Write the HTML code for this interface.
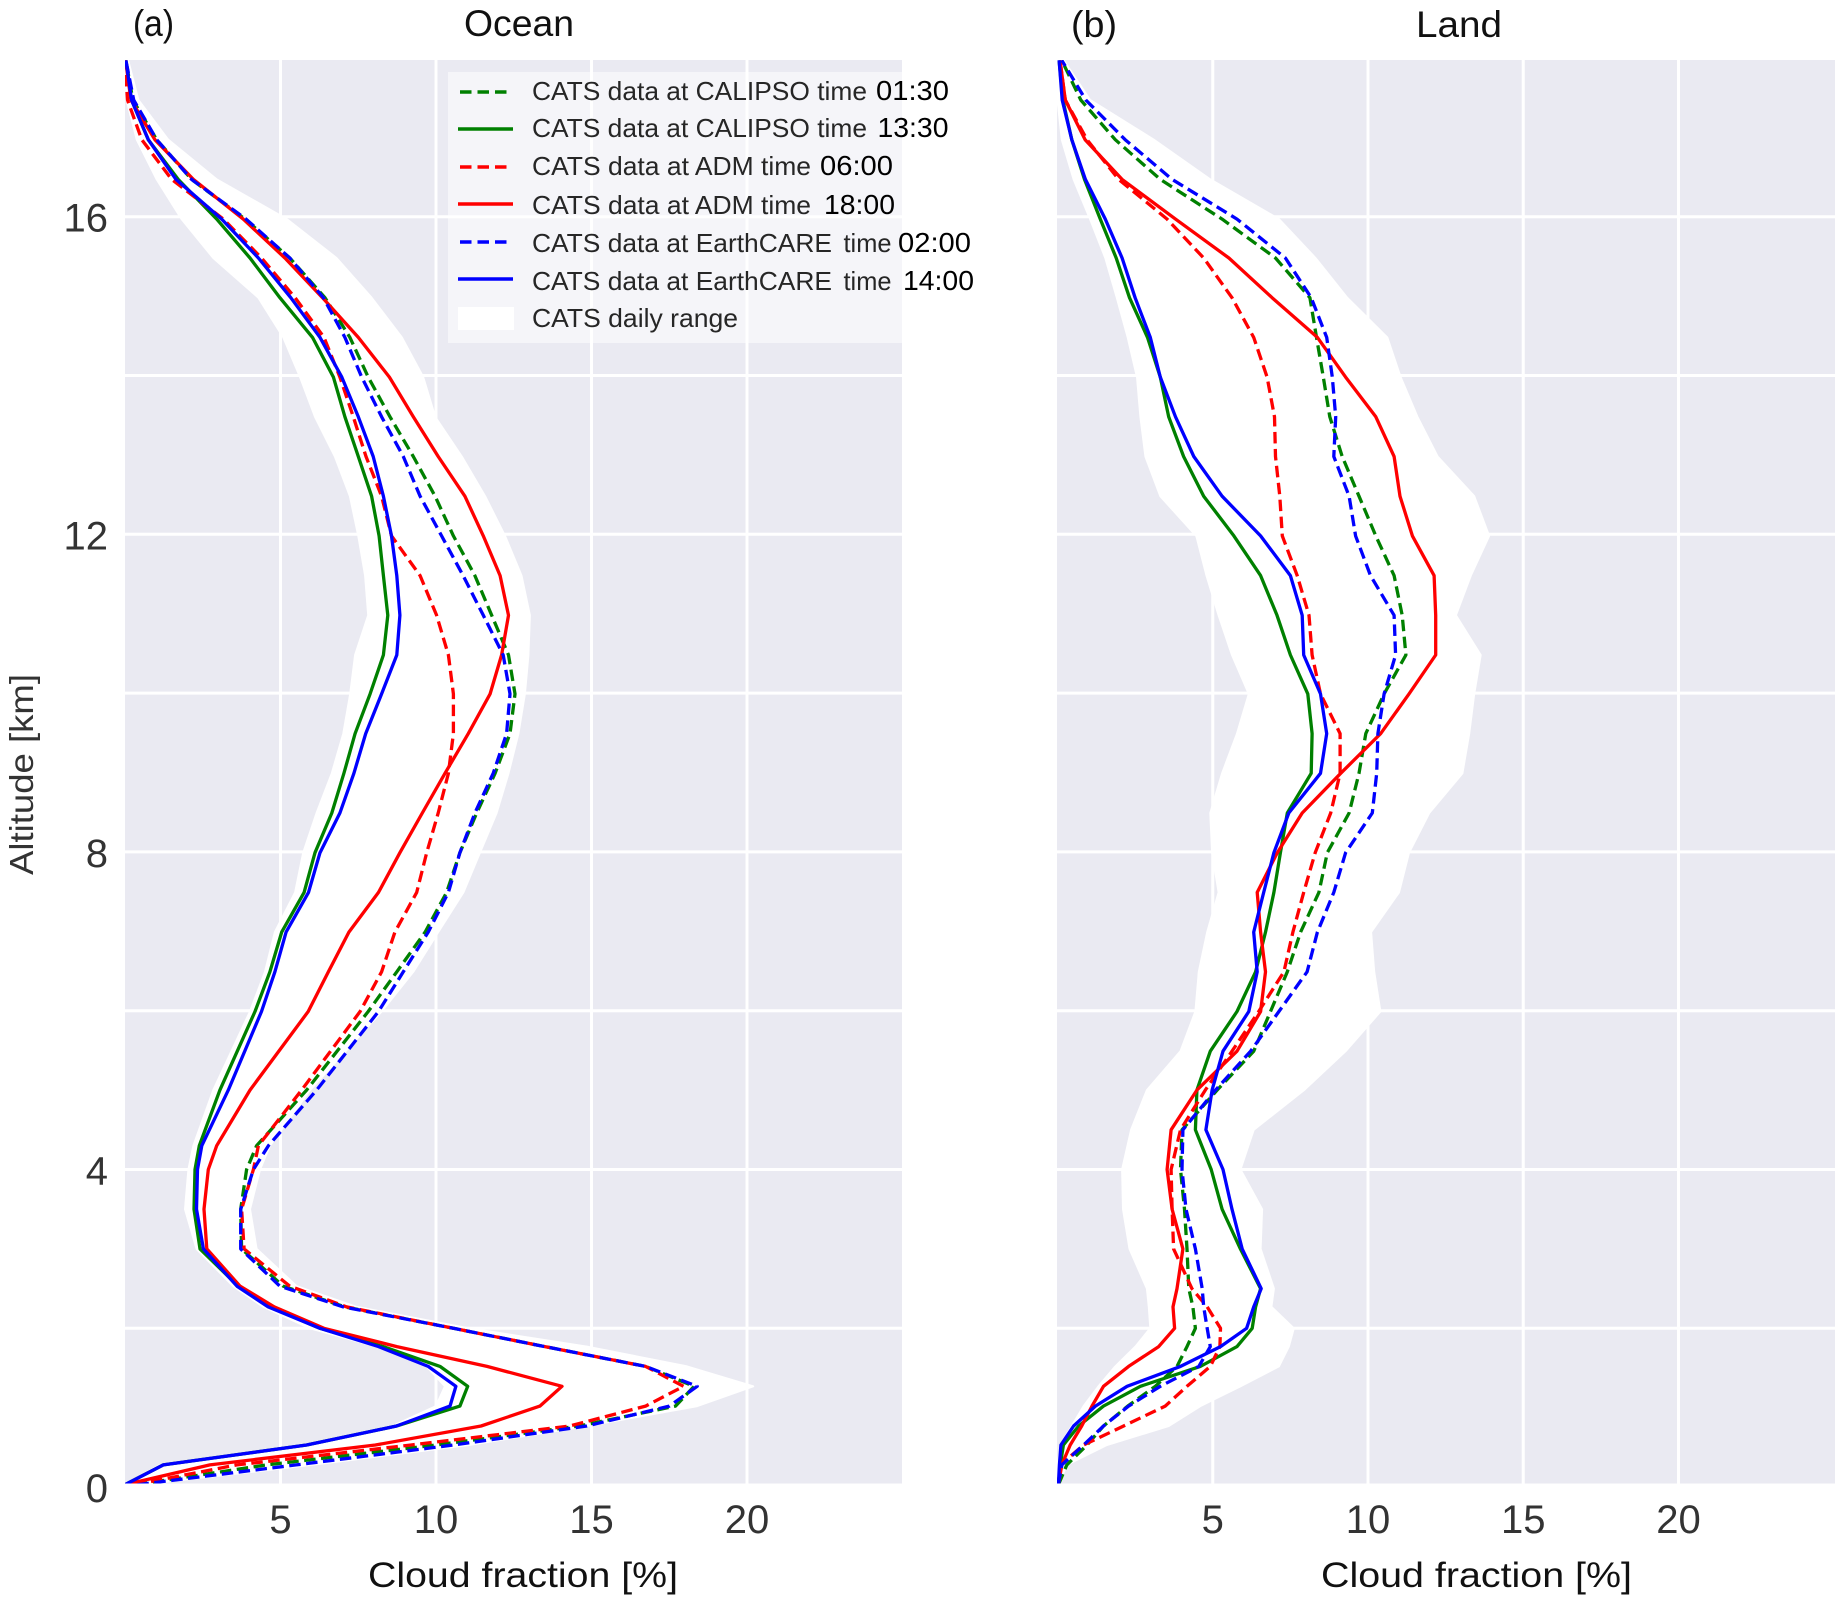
<!DOCTYPE html>
<html lang="en">
<head>
<meta charset="utf-8">
<title>CATS cloud fraction profiles</title>
<style>
html,body{margin:0;padding:0;background:#fff}
svg{display:block}
text{font-family:"Liberation Sans",Arial,sans-serif}
.tick{font-size:40px;fill:#333}
.leg{font-size:26px;fill:#262626}
.legt{font-size:28px;fill:#000}
.title{font-size:37px;fill:#111}
.xl{font-size:35px;fill:#111}
</style>
</head>
<body>
<svg id="chart" xmlns="http://www.w3.org/2000/svg" width="1841" height="1600" viewBox="0 0 1841 1600">
  <defs>
    <clipPath id="clipA"><rect x="125" y="60" width="777" height="1423.5"/></clipPath>
    <clipPath id="clipB"><rect x="1057" y="60" width="778" height="1423.5"/></clipPath>
  </defs>
  <g id="panelA"></g>
  <g id="panelB"></g>

  <text class="title" x="133" y="36" textLength="41" lengthAdjust="spacingAndGlyphs">(a)</text>
  <text class="title" x="464" y="36" textLength="110" lengthAdjust="spacingAndGlyphs">Ocean</text>
  <text class="title" x="1071" y="37" textLength="46" lengthAdjust="spacingAndGlyphs">(b)</text>
  <text class="title" x="1416" y="37" textLength="86" lengthAdjust="spacingAndGlyphs">Land</text>
  <text class="xl" x="368" y="1587" textLength="310" lengthAdjust="spacingAndGlyphs">Cloud fraction [%]</text>
  <text class="xl" x="1321" y="1587" textLength="311" lengthAdjust="spacingAndGlyphs">Cloud fraction [%]</text>
  <text x="0" y="0" transform="translate(33,875) rotate(-90)" textLength="201" lengthAdjust="spacingAndGlyphs" style="font-size:33px;fill:#333">Altitude [km]</text>

  <g>
    <path d="M448 72H902V343H448Z" fill="#ffffff" fill-opacity="0.5"/>
    <g>
      <line x1="460" x2="507" y1="92" y2="92" stroke="#008000" stroke-width="3.4" stroke-dasharray="11.5 6"/>
      <text class="leg" x="532" y="100" textLength="335" lengthAdjust="spacingAndGlyphs">CATS data at CALIPSO time</text>
      <text class="legt" x="876" y="100" textLength="73" lengthAdjust="spacingAndGlyphs">01:30</text>
    </g>
    <g>
      <line x1="458" x2="513" y1="129" y2="129" stroke="#008000" stroke-width="3.4"/>
      <text class="leg" x="532" y="137" textLength="335" lengthAdjust="spacingAndGlyphs">CATS data at CALIPSO time</text>
      <text class="legt" x="877.5" y="137" textLength="71" lengthAdjust="spacingAndGlyphs">13:30</text>
    </g>
    <g>
      <line x1="460" x2="507" y1="167" y2="167" stroke="#ff0000" stroke-width="3.4" stroke-dasharray="11.5 6"/>
      <text class="leg" x="532" y="175" textLength="279" lengthAdjust="spacingAndGlyphs">CATS data at ADM time</text>
      <text class="legt" x="820" y="175" textLength="73" lengthAdjust="spacingAndGlyphs">06:00</text>
    </g>
    <g>
      <line x1="458" x2="513" y1="204" y2="204" stroke="#ff0000" stroke-width="3.4"/>
      <text class="leg" x="532" y="214" textLength="279" lengthAdjust="spacingAndGlyphs">CATS data at ADM time</text>
      <text class="legt" x="824" y="214" textLength="71" lengthAdjust="spacingAndGlyphs">18:00</text>
    </g>
    <g>
      <line x1="460" x2="507" y1="242" y2="242" stroke="#0000ff" stroke-width="3.4" stroke-dasharray="11.5 6"/>
      <text class="leg" x="532" y="252" textLength="300" lengthAdjust="spacingAndGlyphs">CATS data at EarthCARE</text>
      <text class="leg" x="843.5" y="252" textLength="48" lengthAdjust="spacingAndGlyphs">time</text>
      <text class="legt" x="898" y="252" textLength="73" lengthAdjust="spacingAndGlyphs">02:00</text>
    </g>
    <g>
      <line x1="458" x2="513" y1="279" y2="279" stroke="#0000ff" stroke-width="3.4"/>
      <text class="leg" x="532" y="290" textLength="300" lengthAdjust="spacingAndGlyphs">CATS data at EarthCARE</text>
      <text class="leg" x="843.5" y="290" textLength="48" lengthAdjust="spacingAndGlyphs">time</text>
      <text class="legt" x="903" y="290" textLength="71" lengthAdjust="spacingAndGlyphs">14:00</text>
    </g>
    <g>
      <rect x="458" y="307" width="56" height="23" fill="#ffffff"/>
      <text class="leg" x="532" y="327" textLength="206" lengthAdjust="spacingAndGlyphs">CATS daily range</text>
    </g>
  </g>
</svg>

<script>
const xTickValues = [5, 10, 15, 20];
const yGridValues = [2, 4, 6, 8, 10, 12, 14, 16];
const yTickValues = [0, 4, 8, 12, 16];

const oceanAltitude = [0.03,0.28,0.53,0.77,1.02,1.27,1.52,1.77,2,2.27,2.53,3,3.5,4,4.3,5,5.99,6.49,6.99,7.49,7.99,8.49,8.99,9.49,9.99,10.48,10.98,11.48,11.98,12.48,12.98,13.48,13.98,14.48,14.98,15.48,15.97,16.47,16.97,17.47,17.97];
const oceanRangeLow = [0,1.13,5.73,8.6,10,10.29,9.7,8.1,5.95,4.45,3.48,2.3,1.93,2.04,2.2,2.84,4.02,4.5,4.82,5.47,5.73,6.16,6.65,7.02,7.24,7.4,7.82,7.72,7.5,7.23,6.75,6.11,5.63,5.09,4.29,2.84,1.82,1.02,0.38,0.05,0];
const oceanRangeHigh = [0.5,6,11.06,14.85,18.4,20.2,18.07,14.85,11.06,7.45,5.52,4.23,4.02,4.34,4.66,5.95,8.25,9.27,10.07,10.88,11.41,11.95,12.33,12.65,12.86,12.97,13.02,12.75,12.22,11.58,10.83,9.97,9.59,8.9,7.93,6.8,5.2,2.95,1.39,0.43,0.1];
const oceanCalipso0130 = [0.35,4.55,10,14.6,17.7,18.3,16.74,13.5,10.56,7.07,5.09,3.75,3.72,3.91,4.23,5.84,7.82,8.74,9.65,10.34,10.77,11.31,11.9,12.38,12.54,12.33,11.79,11.25,10.56,9.97,9.27,8.52,7.82,7.23,6.43,5.3,3.86,2.14,1.02,0.25,0.03];
const oceanCalipso1330 = [0,1.23,5.84,8.73,10.77,11.02,10.13,8.3,6.27,4.66,3.64,2.41,2.22,2.25,2.39,3.05,4.18,4.66,5.04,5.76,6.11,6.65,7.04,7.4,7.88,8.31,8.45,8.31,8.17,7.93,7.5,7.07,6.7,6.03,4.98,4.02,2.95,1.71,0.75,0.21,0.03];
const oceanAdm0600 = [0.3,3.6,9.2,14.3,16.74,17.96,16.74,13.5,10.56,7.13,5.3,3.83,3.75,4.13,4.29,5.68,7.56,8.25,8.68,9.38,9.7,10.07,10.4,10.56,10.56,10.4,10.02,9.49,8.57,8.25,7.75,7.34,6.91,6.4,5.47,4.39,3.16,1.5,0.54,0.08,0];
const oceanAdm1800 = [0,2.73,8.05,11.45,13.34,14.05,11.64,8.74,6.4,4.8,3.7,2.63,2.54,2.68,2.95,4.02,5.89,6.54,7.2,8.15,8.84,9.56,10.29,11.04,11.74,12.11,12.33,12.06,11.52,10.93,10.07,9.27,8.5,7.5,6.35,5.14,3.8,2.2,0.96,0.19,0.02];
const oceanEarthcare0200 = [0.4,5.5,10.56,14.85,17.5,18.4,16.74,13.5,10.56,7.02,4.98,3.72,3.72,4.13,4.61,6.16,8.15,8.95,9.75,10.4,10.77,11.25,11.84,12.27,12.38,12.16,11.52,10.87,10.18,9.49,8.95,8.25,7.61,7.07,6.38,5.3,3.89,2.14,1.02,0.28,0.03];
const oceanEarthcare1400 = [0,1.23,5.84,8.73,10.45,10.64,9.75,8.15,6.27,4.6,3.6,2.52,2.3,2.33,2.47,3.32,4.39,4.82,5.18,5.9,6.27,6.91,7.36,7.74,8.25,8.74,8.84,8.74,8.57,8.31,7.98,7.5,6.97,6.27,5.33,4.29,3.11,1.64,0.75,0.21,0.03];

const landAltitude = [0.03,0.28,0.53,0.77,1.02,1.27,1.52,1.77,2,2.27,2.5,3,3.5,4,4.5,5,5.49,5.99,6.49,6.99,7.49,7.99,8.49,8.99,9.49,9.99,10.48,10.98,11.48,11.98,12.48,12.98,13.48,13.98,14.48,14.98,15.48,15.97,16.47,16.97,17.47,17.97];
const landRangeLow = [0,0.01,0.09,0.46,0.84,1.32,1.86,2.51,2.99,2.94,2.88,2.32,2.11,2.08,2.37,2.88,3.96,4.44,4.55,4.82,5.19,4.98,4.92,5.3,5.78,6.16,5.62,5.19,4.8,4.47,3.31,2.83,2.67,2.56,2.26,1.91,1.54,1.05,0.52,0.14,0,0];
const landRangeHigh = [0.03,0.3,1.59,3.58,4.6,5.89,7.13,7.45,7.61,6.89,6.97,6.54,6.59,5.89,6.32,7.94,9.28,10.4,10.2,10.1,11,11.32,11.97,13.04,13.26,13.42,13.63,12.83,13.31,13.9,13.42,12.24,11.59,11.05,10.62,9.33,8.31,7.13,4.92,3.1,1.05,0.2];
const landCalipso0130 = [0.03,0.3,0.95,1.48,2.26,3.15,3.85,4.17,4.44,4.36,4.23,4.17,4.09,3.96,4.01,5.14,6.32,6.86,7.4,7.83,8.42,8.69,9.39,9.71,9.93,10.52,11.22,11.1,10.84,10.25,9.71,9.17,8.77,8.56,8.34,8.13,7.02,5.3,3.31,1.86,0.75,0.14];
const landCalipso1330 = [0.03,0.09,0.19,0.68,1.48,2.67,4.6,5.78,6.27,6.38,6.54,5.89,5.3,4.95,4.44,4.49,4.92,5.78,6.38,6.7,6.97,7.18,7.4,8.17,8.2,8.06,7.5,7.07,6.54,5.68,4.71,4.06,3.58,3.31,2.9,2.32,1.89,1.38,0.87,0.46,0.17,0.05];
const landAdm0600 = [0.03,0.09,0.84,2.13,3.47,4.17,4.92,5.23,5.25,4.82,4.33,3.74,3.69,3.66,3.96,4.76,5.62,6.48,7.29,7.58,7.93,8.3,8.8,9.1,9.1,8.47,8.2,8.1,7.72,7.24,7.16,7.02,6.99,6.75,6.32,5.62,4.71,3.53,1.97,0.95,0.25,0.08];
const landAdm1800 = [0.03,0.14,0.41,0.78,1.11,1.48,2.29,3.26,3.77,3.72,3.85,4.04,3.69,3.53,3.66,4.49,5.78,6.54,6.7,6.54,6.43,7.08,7.88,9.12,10.41,11.32,12.18,12.18,12.13,11.43,11.03,10.84,10.25,9.28,8.37,6.91,5.52,3.8,2.08,0.89,0.25,0.08];
const landEarthcare0200 = [0.03,0.14,0.84,1.48,2.29,3.31,4.55,4.92,4.82,4.71,4.66,4.44,4.14,4.01,4.04,5.09,6.22,7.13,8.04,8.37,8.9,9.28,10.14,10.28,10.32,10.52,10.89,10.84,10.08,9.6,9.39,8.9,8.96,8.85,8.67,8.17,7.34,5.78,3.69,2.18,0.91,0.14];
const landEarthcare1400 = [0.03,0.06,0.11,0.52,1.22,2.24,3.96,5.25,6.09,6.32,6.56,5.95,5.62,5.33,4.78,4.98,5.33,6.16,6.43,6.32,6.64,6.97,7.45,8.47,8.67,8.47,7.93,7.88,7.5,6.54,5.3,4.39,3.8,3.31,2.99,2.5,2.08,1.54,0.9,0.46,0.15,0.05];

const NS = 'http://www.w3.org/2000/svg';
function yScale(km) { return 1487.1 - 79.4 * km; }
function xScaleOcean(v) { return 125 + 31.1 * v; }
function xScaleLand(v) { return 1057.5 + 31.05 * v; }

function drawPanel(group, clipId, xScale, left, right, alt, low, high, series, showYLabels) {
  const bottom = 1483.5, top = 60;
  const bg = document.createElementNS(NS, 'rect');
  bg.setAttribute('x', left);
  bg.setAttribute('y', top);
  bg.setAttribute('width', right - left);
  bg.setAttribute('height', bottom - top);
  bg.setAttribute('fill', '#eaeaf2');
  
  
  group.appendChild(bg);

  xTickValues.forEach(function (v) {
    const g = document.createElementNS(NS, 'line');
    g.setAttribute('x1', xScale(v));
    g.setAttribute('x2', xScale(v));
    g.setAttribute('y1', top);
    g.setAttribute('y2', bottom);
    g.setAttribute('stroke', '#ffffff');
    g.setAttribute('stroke-width', '3');
    
    
    group.appendChild(g);
    const t = document.createElementNS(NS, 'text');
    t.setAttribute('class', 'tick');
    t.setAttribute('x', xScale(v));
    t.setAttribute('y', 1533);
    t.setAttribute('text-anchor', 'middle');
    
    
    t.textContent = String(v);
    group.appendChild(t);
  });

  yGridValues.forEach(function (v) {
    const g = document.createElementNS(NS, 'line');
    g.setAttribute('x1', left);
    g.setAttribute('x2', right);
    g.setAttribute('y1', yScale(v));
    g.setAttribute('y2', yScale(v));
    g.setAttribute('stroke', '#ffffff');
    g.setAttribute('stroke-width', '3');
    
    
    group.appendChild(g);
  });

  if (showYLabels) {
    yTickValues.forEach(function (v) {
      const t = document.createElementNS(NS, 'text');
      t.setAttribute('class', 'tick');
      t.setAttribute('x', 108);
      t.setAttribute('y', yScale(v) + 15);
      t.setAttribute('text-anchor', 'end');
      
      
      t.textContent = String(v);
      group.appendChild(t);
    });
  }

  const marks = document.createElementNS(NS, 'g');
  marks.setAttribute('clip-path', 'url(#' + clipId + ')');
  
  
  group.appendChild(marks);

  const pts = [];
  alt.forEach(function (h, i) { pts.push(xScale(high[i]).toFixed(1) + ',' + yScale(h).toFixed(1)); });
  for (let i = alt.length - 1; i >= 0; i--) { pts.push(xScale(low[i]).toFixed(1) + ',' + yScale(alt[i]).toFixed(1)); }
  const band = document.createElementNS(NS, 'polygon');
  band.setAttribute('points', pts.join(' '));
  band.setAttribute('fill', '#ffffff');
  band.setAttribute('stroke', '#ffffff');
  band.setAttribute('stroke-width', '2');
  band.setAttribute('stroke-linejoin', 'round');
  
  
  marks.appendChild(band);

  series.forEach(function (s) {
    const line = document.createElementNS(NS, 'polyline');
    const p = alt.map(function (h, i) { return xScale(s.values[i]).toFixed(1) + ',' + yScale(h).toFixed(1); });
    line.setAttribute('points', p.join(' '));
    line.setAttribute('fill', 'none');
    line.setAttribute('stroke', s.color);
    line.setAttribute('stroke-width', '3.3');
    line.setAttribute('stroke-linejoin', 'round');
    if (s.dashed) { line.setAttribute('stroke-dasharray', '11.5 5.5'); }
    
    
    marks.appendChild(line);
  });
}

drawPanel(document.getElementById('panelA'), 'clipA', xScaleOcean, 125, 902, oceanAltitude, oceanRangeLow, oceanRangeHigh, [
  { name: 'calipso-0130-line', color: '#008000', dashed: true, values: oceanCalipso0130 },
  { name: 'calipso-1330-line', color: '#008000', dashed: false, values: oceanCalipso1330 },
  { name: 'adm-0600-line', color: '#ff0000', dashed: true, values: oceanAdm0600 },
  { name: 'adm-1800-line', color: '#ff0000', dashed: false, values: oceanAdm1800 },
  { name: 'earthcare-0200-line', color: '#0000ff', dashed: true, values: oceanEarthcare0200 },
  { name: 'earthcare-1400-line', color: '#0000ff', dashed: false, values: oceanEarthcare1400 }
], true);

drawPanel(document.getElementById('panelB'), 'clipB', xScaleLand, 1057, 1835, landAltitude, landRangeLow, landRangeHigh, [
  { name: 'calipso-0130-line', color: '#008000', dashed: true, values: landCalipso0130 },
  { name: 'calipso-1330-line', color: '#008000', dashed: false, values: landCalipso1330 },
  { name: 'adm-0600-line', color: '#ff0000', dashed: true, values: landAdm0600 },
  { name: 'adm-1800-line', color: '#ff0000', dashed: false, values: landAdm1800 },
  { name: 'earthcare-0200-line', color: '#0000ff', dashed: true, values: landEarthcare0200 },
  { name: 'earthcare-1400-line', color: '#0000ff', dashed: false, values: landEarthcare1400 }
], false);
</script>
</body>
</html>
